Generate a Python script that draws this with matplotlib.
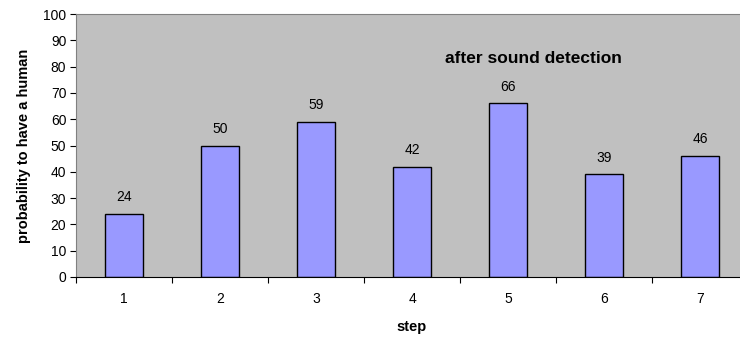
import matplotlib
matplotlib.use("Agg")
import matplotlib.pyplot as plt

plt.rcParams['font.family'] = ['Liberation Sans', 'DejaVu Sans']

steps = [1, 2, 3, 4, 5, 6, 7]
probs = [24, 50, 59, 42, 66, 39, 46]
yticks = [0, 10, 20, 30, 40, 50, 60, 70, 80, 90, 100]

fig = plt.figure(figsize=(7.4, 3.38), dpi=100)
# plot area runs a bit past the right edge of the picture, like the original
ax = fig.add_axes([76 / 740, 61 / 338, 672 / 740, 263 / 338])
ax.set_facecolor('#C0C0C0')

bars = ax.bar(steps, probs, width=0.4, color='#9999FF', edgecolor='black', linewidth=1.0)
for x, v in zip(steps, probs):
    ax.annotate(str(v), (x, v), xytext=(0, 7), textcoords='offset points',
                ha='center', va='bottom', fontsize=10)

ax.set_xlim(0.5, 7.5)
ax.set_ylim(0, 100)
ax.set_yticks(yticks)

# category ticks between bars, labels centred under bars
ax.set_xticks([s - 0.5 for s in steps] + [steps[-1] + 0.5])
ax.set_xticklabels([])
ax.set_xticks(steps, minor=True)
ax.set_xticklabels([str(s) for s in steps], minor=True)
ax.tick_params(axis='x', which='major', length=4, direction='out', color='black')
ax.tick_params(axis='x', which='minor', length=0, pad=11, labelsize=10)
ax.tick_params(axis='y', length=4, direction='out', pad=3, labelsize=10)

for side in ['top', 'left', 'right']:
    ax.spines[side].set_color('#808080')
ax.spines['bottom'].set_color('black')

ax.text(5.26, 83, 'after sound detection', ha='center', va='center',
        fontsize=12.5, fontweight='bold')

ax.set_xlabel('step', fontsize=10.5, fontweight='bold', labelpad=10)
ax.set_ylabel('probability to have a human', fontsize=10.5, fontweight='bold', labelpad=9)

fig.savefig('out.png', dpi=100)
